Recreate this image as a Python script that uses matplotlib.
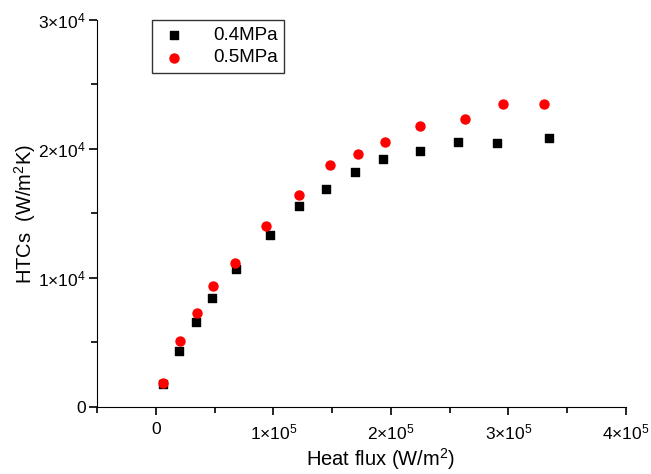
import matplotlib
matplotlib.use('Agg')
import matplotlib.pyplot as plt
from matplotlib.ticker import MultipleLocator, FuncFormatter

plt.rcParams['font.family'] = ['Liberation Sans', 'DejaVu Sans']
plt.rcParams['mathtext.fontset'] = 'custom'
plt.rcParams['mathtext.rm'] = 'Liberation Sans'
plt.rcParams['mathtext.it'] = 'Liberation Sans'

# 数据
flux_04 = [5950, 20150, 34600, 47900, 68600, 96900, 121600, 144800, 169200, 193600,
           225100, 256800, 290200, 334400]
htc_04 = [1760, 4360, 6610, 8420, 10670, 13350, 15570, 16910, 18200, 19260,
          19850, 20550, 20470, 20890]
flux_05 = [5950, 20400, 35100, 49100, 67400, 93800, 122200, 148200, 172000, 195300,
           224700, 262800, 295100, 330200]
htc_05 = [1880, 5090, 7300, 9370, 11150, 14000, 16420, 18770, 19650, 20530,
          21820, 22330, 23450, 23520]

fig = plt.figure(figsize=(6.51, 4.74), dpi=100)
ax = fig.add_axes([0.149, 0.1414, 0.8126, 0.8164])

ax.scatter(flux_04, htc_04, marker='s', s=28, color='black', label='0.4MPa', zorder=3)
ax.scatter(flux_05, htc_05, marker='o', s=42, color='red', label='0.5MPa', zorder=3)

ax.set_xlim(-50000, 400000)
ax.set_ylim(0, 30000)

def sci(v, pos):
    if v == 0:
        return '0'
    e = len(str(int(abs(v)))) - 1
    m = int(round(v / 10 ** e))
    return r'$%d{\times}10^{%d}$' % (m, e)

ax.xaxis.set_major_locator(MultipleLocator(100000))
ax.xaxis.set_minor_locator(MultipleLocator(50000))
ax.yaxis.set_major_locator(MultipleLocator(10000))
ax.yaxis.set_minor_locator(MultipleLocator(5000))
ax.xaxis.set_major_formatter(FuncFormatter(sci))
ax.yaxis.set_major_formatter(FuncFormatter(sci))

ax.spines['top'].set_visible(False)
ax.spines['right'].set_visible(False)
ax.tick_params(which='major', direction='out', length=6, width=1.2, labelsize=12.5)
ax.tick_params(which='minor', direction='out', length=4, width=1.2)
ax.tick_params(axis='x', which='major', pad=5)
ax.tick_params(axis='y', which='major', pad=2)

ax.set_xlabel('Heat flux (W/m$^2$)', fontsize=14.5, labelpad=3)
ax.xaxis.label.set_x(0.535)
ax.set_ylabel('HTCs  (W/m$^2$K)', fontsize=14.5, labelpad=0)

leg = ax.legend(loc='upper left', bbox_to_anchor=(0.104, 1.0), borderaxespad=0,
                frameon=True, fancybox=False, edgecolor='black', fontsize=13.5,
                handletextpad=1.3, borderpad=0.35, labelspacing=0.3,
                handlelength=1.6, markerscale=1.0)
leg.get_frame().set_linewidth(1.0)

plt.savefig('out.png', dpi=100)
